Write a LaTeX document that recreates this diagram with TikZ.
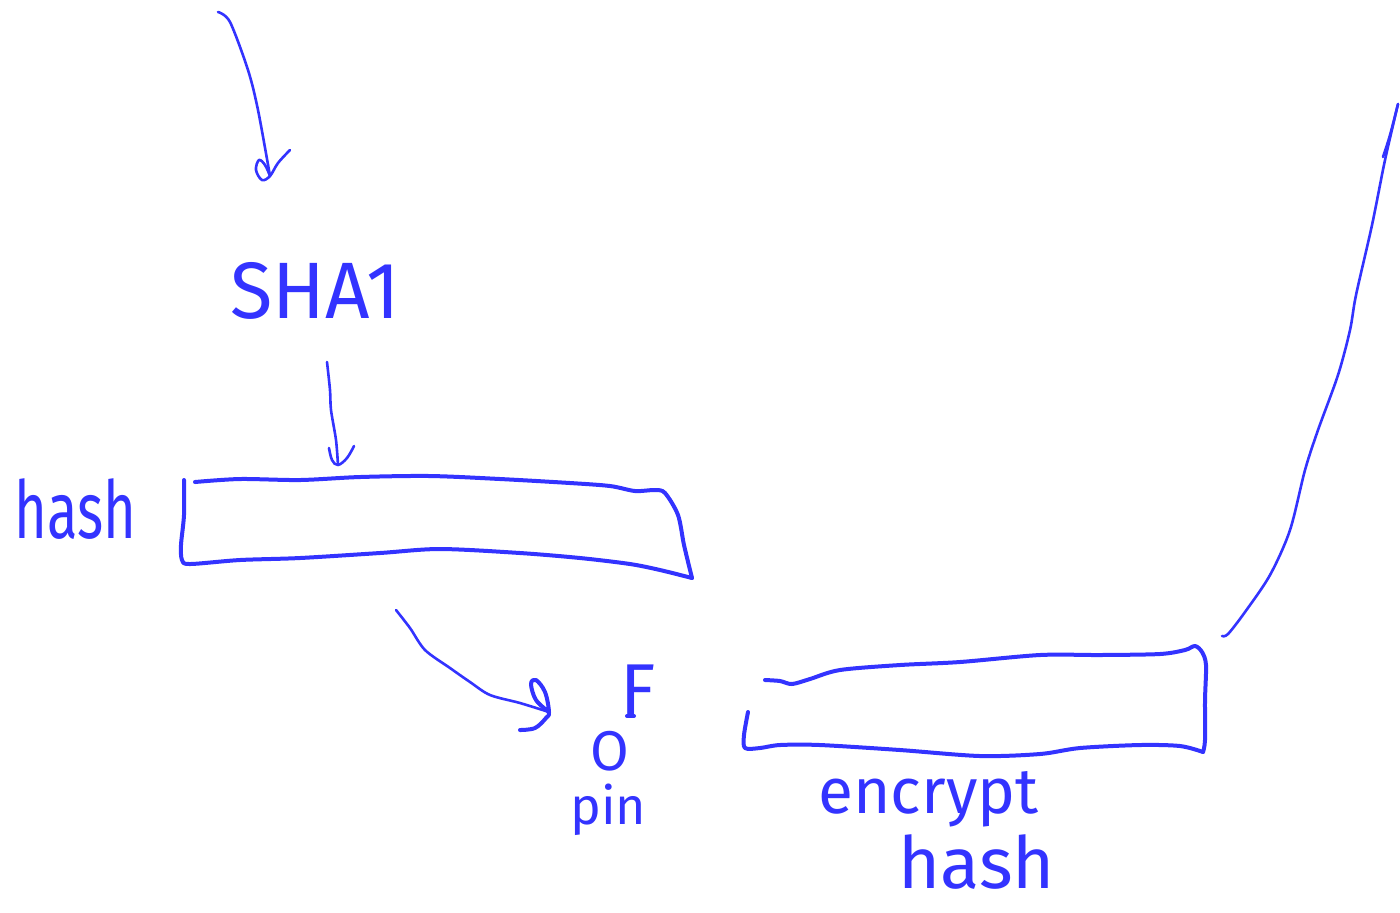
\documentclass[tikz,border=0pt]{standalone}
\usepackage{fontspec}
\setmainfont{Fira Sans}
\definecolor{ink}{HTML}{3333FF}
\tikzset{
  pen/.style={draw=ink, line width=2pt, line cap=round, line join=round},
  finepen/.style={pen, line width=1.3pt},
  word/.style={text=ink, inner sep=0pt, anchor=base west},
}
\begin{document}
\begin{tikzpicture}[x=0.5pt,y=-0.5pt]
\useasboundingbox (0,0) rectangle (1400,912);

% labels
\node[word] (sha) at (230,318) {\fontsize{40}{40}\selectfont\scalebox{0.97}[1]{SHA1}};
\node[word] (hashlbl) at (14,538) {\fontsize{40}{40}\selectfont\scalebox{0.7}[1]{hash}};
\node[word] (f) at (620,714) {\fontsize{36}{36}\selectfont F};
\node[word] (o) at (590,770) {\fontsize{28}{28}\selectfont O};
\node[word] (pin) at (570,824) {\fontsize{26}{26}\selectfont pin};
\node[word] (enc) at (818,813) {\fontsize{32}{32}\selectfont encrypt};
\node[word] (enchash) at (898,888) {\fontsize{36}{36}\selectfont hash};

% anchor points of the connectors
\coordinate (inS) at (218,12);
\coordinate (inE) at (270,176);
\coordinate (shaS) at (327,362);
\coordinate (shaE) at (338,465);
\coordinate (hS) at (396,610);
\coordinate (hE) at (549,712);
\coordinate (outS) at (1222,636);
\coordinate (outE) at (1398,104);

% hash buffer
\draw[pen] plot[smooth, tension=0.5] coordinates {(195,482) (240,479) (300,480) (360,477) (430,476) (500,479) (570,483) (610,486) (635,491) (655,490) (665,493) (678,515) (684,545) (692,578)};
\draw[pen] plot[smooth, tension=0.5] coordinates {(692,578) (660,570) (630,564) (580,558) (520,553) (440,549) (380,553) (300,558) (240,560) (190,564) (182,560) (181,545) (184,515) (184,480)};

% encrypted hash buffer
\draw[pen] plot[smooth, tension=0.5] coordinates {(765,680) (780,681) (792,684) (810,679) (840,670) (900,665) (960,662) (1040,655) (1100,655) (1160,654) (1185,650) (1195,646) (1202,652) (1206,665) (1205,700) (1205,740) (1203,752)};
\draw[pen] plot[smooth, tension=0.5] coordinates {(1203,752) (1180,746) (1140,745) (1080,748) (1040,754) (980,756) (900,750) (820,745) (780,745) (760,748) (745,748) (744,735) (748,712)};

% input arrow into SHA1
\draw[finepen] plot[smooth, tension=0.5] coordinates {(inS) (230,22) (248,70) (258,110) (inE)};
\draw[finepen] plot[smooth, tension=0.6] coordinates {(290,150) (278,163) (inE) (262,180) (256,170) (259,160) (265,165) (270,176)};

% SHA1 into hash buffer
\draw[finepen] plot[smooth, tension=0.5] coordinates {(shaS) (330,390) (331,410) (336,440) (shaE)};
\draw[finepen] plot[smooth, tension=0.6] coordinates {(329,448) (332,460) (shaE) (347,458) (354,446)};

% hash buffer into F
\draw[finepen] plot[smooth, tension=0.5] coordinates {(hS) (410,628) (425,650) (450,668) (470,682) (490,695) (520,703) (hE)};
\draw[pen] plot[smooth, tension=0.6] coordinates {(520,730) (535,728) (546,718) (hE) (545,692) (536,680) (531,684) (536,700) (hE)};
\draw[pen] (627,716) -- (634,716);

% encrypted hash out
\draw[finepen] plot[smooth, tension=0.5] coordinates {(outS) (1228,634) (1245,612) (1270,575) (1290,530) (1305,470) (1318,430) (1338,375) (1350,330) (1356,295) (1372,225) (1385,160) (outE)};
\draw[finepen] plot[smooth, tension=0.5] coordinates {(1383,157) (1390,135) (outE)};
\end{tikzpicture}
\end{document}
